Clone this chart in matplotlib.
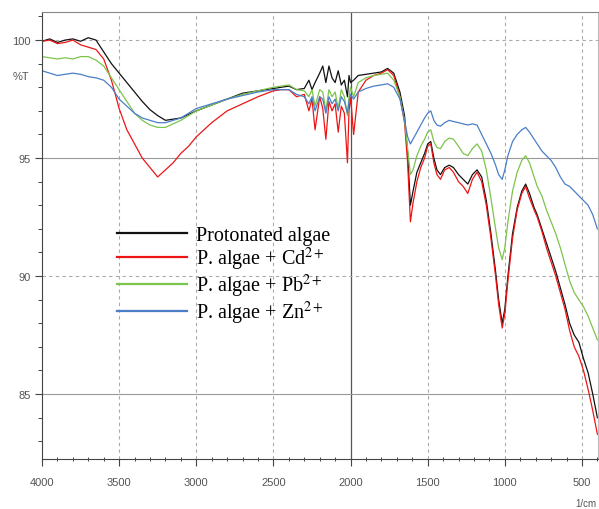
import matplotlib
matplotlib.use("Agg")
import matplotlib.pyplot as plt
from matplotlib.ticker import MultipleLocator, FixedLocator

wavenumber = [4000, 3950, 3900, 3850, 3800, 3750, 3700, 3650, 3600, 3550,
              3500, 3450, 3400, 3350, 3300, 3250, 3200, 3150, 3100, 3050,
              3000, 2900, 2800, 2700, 2600, 2500, 2450, 2400, 2350, 2300,
              2270, 2250, 2230, 2200, 2180, 2160, 2140, 2120, 2100, 2080,
              2060, 2040, 2020, 2010, 2000, 1980, 1950, 1900, 1850, 1800,
              1760, 1720, 1680, 1650, 1630, 1612, 1595, 1570, 1545, 1520,
              1500, 1480, 1460, 1440, 1417, 1390, 1360, 1333, 1300, 1270,
              1240, 1210, 1180, 1150, 1120, 1090, 1060, 1040, 1017, 1000,
              980, 950, 920, 890, 865, 840, 810, 790, 760, 730,
              700, 670, 640, 610, 580, 550, 520, 490, 460, 430, 400]

protonated = [99.95, 100.05, 99.9, 100.0, 100.05, 99.95, 100.1, 100.0, 99.5, 99.0,
              98.6, 98.2, 97.8, 97.4, 97.05, 96.8, 96.6, 96.65, 96.7, 96.85,
              97.0, 97.25, 97.5, 97.75, 97.85, 97.95, 98.0, 98.05, 97.9, 97.95,
              98.3, 97.9, 98.2, 98.6, 98.9, 98.2, 98.9, 98.4, 98.2, 98.7,
              98.1, 98.3, 97.6, 98.5, 98.2, 98.3, 98.5, 98.55, 98.6, 98.65,
              98.8, 98.6, 97.8, 96.8, 95.2, 93.0, 93.6, 94.4, 94.8, 95.2,
              95.6, 95.7, 95.0, 94.5, 94.3, 94.6, 94.7, 94.6, 94.3, 94.1,
              93.9, 94.3, 94.5, 94.2, 93.2, 91.8, 90.2, 89.0, 88.0, 88.6,
              90.0, 91.8, 92.9, 93.6, 93.9, 93.5, 92.9, 92.6, 92.0, 91.4,
              90.8, 90.2, 89.5, 88.8, 88.0, 87.5, 87.2, 86.5, 85.9, 85.0, 84.0]

cd = [99.95, 100.0, 99.85, 99.9, 100.0, 99.8, 99.7, 99.6, 99.2, 98.3,
      97.1, 96.2, 95.6, 95.0, 94.6, 94.2, 94.5, 94.8, 95.2, 95.5,
      95.9, 96.5, 97.0, 97.3, 97.6, 97.85, 97.9, 97.9, 97.6, 97.7,
      97.0, 97.5, 96.2, 97.6, 97.1, 95.8, 97.4, 97.0, 97.3, 96.1,
      97.2, 96.9, 94.8, 97.0, 97.6, 96.0, 97.8, 98.3, 98.5, 98.6,
      98.75, 98.5, 97.6, 96.5, 94.8, 92.3, 93.1, 94.0, 94.6, 95.0,
      95.5, 95.6, 94.8, 94.3, 94.1, 94.5, 94.6, 94.4, 94.0, 93.8,
      93.5, 94.1, 94.4, 94.0, 93.0, 91.6, 90.0, 88.8, 87.8, 88.4,
      89.8, 91.6, 92.8, 93.5, 93.8, 93.3, 92.8, 92.5, 91.9, 91.2,
      90.6, 90.0, 89.3, 88.6, 87.7, 87.0, 86.6, 86.0, 85.2, 84.3, 83.3]

pb = [99.3, 99.25, 99.2, 99.25, 99.2, 99.3, 99.3, 99.15, 98.9, 98.4,
      97.9, 97.4, 96.9, 96.6, 96.4, 96.3, 96.3, 96.45, 96.6, 96.8,
      97.0, 97.25, 97.5, 97.7, 97.85, 98.0, 98.05, 98.1, 97.9, 97.85,
      97.6, 97.9, 97.2, 97.9, 97.8, 97.0, 97.9, 97.6, 97.8, 97.1,
      97.9, 97.6, 96.8, 97.6, 98.0, 97.6, 98.2, 98.4, 98.5, 98.55,
      98.6, 98.3, 97.6, 96.6, 95.4, 94.3, 94.5, 95.1, 95.5, 95.8,
      96.1, 96.2, 95.7, 95.45, 95.4, 95.7, 95.85, 95.8, 95.5, 95.2,
      95.1, 95.4, 95.6, 95.3, 94.5, 93.3, 92.0, 91.2, 90.7, 91.2,
      92.3, 93.6, 94.4, 94.9, 95.1, 94.8, 94.2, 93.8, 93.4, 92.8,
      92.3, 91.8, 91.2, 90.5, 89.8, 89.3, 89.0, 88.7, 88.3, 87.8, 87.3]

zn = [98.7, 98.6, 98.5, 98.55, 98.6, 98.55, 98.45, 98.4, 98.3, 98.0,
      97.5, 97.2, 96.9, 96.7, 96.6, 96.5, 96.5, 96.6, 96.7, 96.9,
      97.1, 97.3, 97.5, 97.65, 97.8, 97.9, 97.9, 97.9, 97.7, 97.6,
      97.3, 97.6, 97.0, 97.6, 97.5, 96.9, 97.6, 97.3, 97.5, 97.0,
      97.6, 97.4, 96.9, 97.4, 97.7, 97.5, 97.8, 97.95, 98.05, 98.1,
      98.15, 98.0, 97.5, 96.6, 95.9, 95.6, 95.8, 96.1, 96.4, 96.7,
      96.9, 97.0, 96.6, 96.4, 96.35, 96.5, 96.6, 96.55, 96.5, 96.45,
      96.4, 96.45, 96.4, 96.0, 95.6, 95.2, 94.7, 94.3, 94.1, 94.5,
      95.1, 95.7, 96.0, 96.2, 96.3, 96.1, 95.8, 95.6, 95.3, 95.1,
      94.9, 94.6, 94.2, 93.9, 93.8, 93.6, 93.4, 93.2, 93.0, 92.6, 92.0]

series_labels = ["Protonated algae", "P. algae + Cd$^{2+}$",
                 "P. algae + Pb$^{2+}$", "P. algae + Zn$^{2+}$"]
series_colors = ["#111111", "#ee1515", "#7cc44a", "#4a7fc8"]
x_ticks = [4000, 3500, 3000, 2500, 2000, 1500, 1000, 500]
y_ticks = [85, 90, 95, 100]

plt.rcParams['mathtext.fontset'] = 'stix'

fig = plt.figure(figsize=(5.99, 5.10), dpi=100)
ax = fig.add_axes([42/599, 50/510, 556/599, 447/510])

for vals, lab, col in zip([protonated, cd, pb, zn], series_labels, series_colors):
    ax.plot(wavenumber, vals, color=col, lw=0.9, label=lab)

ax.set_xlim(4000, 396)
ax.set_ylim(82.25, 101.19)

ax.xaxis.set_major_locator(FixedLocator(x_ticks))
ax.xaxis.set_minor_locator(MultipleLocator(100))
ax.yaxis.set_major_locator(FixedLocator(y_ticks))
ax.yaxis.set_minor_locator(MultipleLocator(1))

tick_col = "#555555"
ax.tick_params(axis='both', which='major', labelsize=8, colors="#444444",
               labelcolor=tick_col, length=5, width=0.8, direction='out')
ax.tick_params(axis='x', which='major', pad=8)
ax.tick_params(axis='y', which='major', pad=3)
ax.tick_params(axis='x', which='minor', length=3, width=0.7, direction='inout', colors="#444444")
ax.tick_params(axis='y', which='minor', length=3, width=0.7, direction='out', colors="#444444")
for lab in ax.get_xticklabels() + ax.get_yticklabels():
    lab.set_family('Liberation Sans')

# grid
for xv in x_ticks[1:]:
    if xv == 2000:
        ax.axvline(xv, color="#555555", lw=0.9, zorder=0)
    else:
        ax.axvline(xv, color="#aaaaaa", lw=0.8, ls=(0, (3, 3)), zorder=0)
for yv in y_ticks:
    if yv in (95, 85):
        ax.axhline(yv, color="#999999", lw=0.8, zorder=0)
    else:
        ax.axhline(yv, color="#aaaaaa", lw=0.8, ls=(0, (3, 3)), zorder=0)

ax.spines['left'].set_color("#444444")
ax.spines['bottom'].set_color("#444444")
ax.spines['top'].set_color("#888888")
ax.spines['right'].set_color("#bbbbbb")

fig.text(21/599, 1 - 77/510, "%T", fontsize=8, color=tick_col, family='Liberation Sans',
         ha='center', va='center')
fig.text(586/599, 1 - 504/510, "1/cm", fontsize=7, color=tick_col, family='Liberation Sans',
         ha='center', va='center')

leg = ax.legend(loc='upper left', bbox_to_anchor=((117-42)/556, (460-227)/447),
                frameon=False, prop={'family': 'Liberation Serif', 'size': 14.5},
                handlelength=3.5, handletextpad=0.4, labelspacing=0.0, borderpad=0,
                borderaxespad=0)
for line in leg.get_lines():
    line.set_linewidth(1.6)

fig.savefig("out.png", dpi=100)
